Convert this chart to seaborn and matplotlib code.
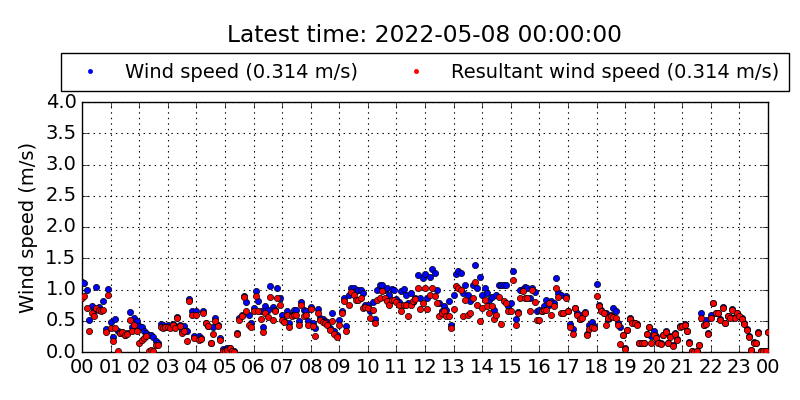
import matplotlib
matplotlib.use('Agg')
import matplotlib.pyplot as plt
import matplotlib.dates as mdates
from matplotlib.lines import Line2D
from matplotlib.ticker import MultipleLocator, FormatStrFormatter
import seaborn as sns
import pandas as pd
import numpy as np

# 5-minute samples, 2022-05-07 00:00 .. 2022-05-08 00:00 (one row per hour)
wind_speed = [
    1.12, 1.10, 1.00, 0.52, 0.73, 0.66, 1.04, 0.72, 0.68, 0.82, 0.37, 1.01,
    0.48, 0.24, 0.53, 0.33, 0.30, 0.32, 0.28, 0.30, 0.64, 0.40, 0.55, 0.50,
    0.42, 0.40, 0.34, 0.31, 0.28, 0.27, 0.24, 0.18, 0.14, 0.45, 0.43, 0.40,
    0.43, 0.40, 0.45, 0.42, 0.56, 0.44, 0.33, 0.42, 0.33, 0.85, 0.65, 0.25,
    0.65, 0.26, 0.22, 0.65, 0.46, 0.41, 0.15, 0.40, 0.54, 0.44, 0.23, 0.05,
    0.03, 0.06, 0.07, 0.02, 0.01, 0.30, 0.55, 0.60, 0.90, 0.80, 0.59, 0.46,
    0.71, 0.97, 0.82, 0.66, 0.40, 0.73, 0.68, 1.06, 0.72, 0.68, 1.02, 0.86,
    0.59, 0.50, 0.66, 0.46, 0.60, 0.67, 0.68, 0.50, 0.80, 0.68, 0.66, 0.50,
    0.72, 0.46, 0.38, 0.69, 0.55, 0.53, 0.50, 0.48, 0.39, 0.62, 0.33, 0.27,
    0.52, 0.65, 0.87, 0.41, 0.91, 1.03, 1.03, 0.97, 1.00, 0.99, 0.95, 0.75,
    0.75, 0.65, 0.80, 0.53, 0.99, 1.08, 1.08, 0.99, 1.02, 0.91, 1.01, 0.99,
    0.85, 0.80, 0.97, 1.01, 0.92, 0.79, 0.94, 0.80, 0.86, 1.24, 0.87, 1.18,
    1.25, 0.87, 1.20, 1.33, 1.27, 1.00, 0.78, 0.65, 0.73, 0.67, 0.81, 0.44,
    0.91, 1.25, 1.29, 1.26, 0.94, 1.07, 0.92, 0.82, 1.07, 1.39, 1.02, 1.20,
    0.91, 1.02, 0.94, 0.83, 0.88, 0.67, 0.92, 1.08, 1.08, 1.08, 1.08, 0.74,
    0.78, 1.30, 0.53, 0.64, 0.99, 1.01, 1.04, 1.02, 0.86, 1.03, 0.96, 0.65,
    0.67, 0.66, 0.74, 0.84, 0.76, 0.81, 0.79, 1.18, 0.95, 0.92, 0.62, 0.90,
    0.65, 0.45, 0.37, 0.71, 0.62, 0.53, 0.59, 0.64, 0.29, 0.43, 0.48, 0.41,
    1.09, 0.76, 0.67, 0.62, 0.62, 0.53, 0.59, 0.70, 0.66, 0.46, 0.40, 0.28,
    0.06, 0.36, 0.55, 0.48, 0.47, 0.45, 0.15, 0.15, 0.15, 0.29, 0.40, 0.25,
    0.33, 0.25, 0.16, 0.14, 0.28, 0.34, 0.15, 0.25, 0.11, 0.30, 0.21, 0.41,
    0.42, 0.45, 0.34, 0.16, 0.01, 0.00, 0.01, 0.12, 0.62, 0.44, 0.51, 0.30,
    0.60, 0.79, 0.63, 0.63, 0.53, 0.72, 0.47, 0.58, 0.56, 0.69, 0.56, 0.63,
    0.58, 0.54, 0.46, 0.37, 0.25, 0.03, 0.16, 0.15, 0.32, 0.01, 0.02, 0.02,
    0.314,
]

resultant_speed = [
    0.87, 0.89, 0.71, 0.33, 0.62, 0.58, 0.70, 0.68, 0.66, 0.68, 0.32, 0.91,
    0.38, 0.17, 0.39, 0.02, 0.31, 0.32, 0.27, 0.29, 0.52, 0.34, 0.43, 0.34,
    0.15, 0.20, 0.22, 0.26, 0.01, 0.04, 0.01, 0.11, 0.12, 0.40, 0.38, 0.40,
    0.40, 0.38, 0.43, 0.38, 0.55, 0.42, 0.30, 0.33, 0.18, 0.82, 0.60, 0.22,
    0.60, 0.20, 0.21, 0.62, 0.46, 0.41, 0.14, 0.29, 0.49, 0.41, 0.19, 0.02,
    0.01, 0.04, 0.06, 0.01, 0.00, 0.29, 0.52, 0.57, 0.88, 0.66, 0.43, 0.40,
    0.65, 0.89, 0.65, 0.53, 0.32, 0.63, 0.56, 0.88, 0.51, 0.66, 0.87, 0.76,
    0.52, 0.48, 0.59, 0.40, 0.58, 0.59, 0.59, 0.43, 0.75, 0.58, 0.59, 0.44,
    0.69, 0.41, 0.25, 0.62, 0.52, 0.48, 0.46, 0.44, 0.36, 0.50, 0.29, 0.24,
    0.43, 0.62, 0.82, 0.34, 0.76, 0.96, 0.91, 0.83, 0.83, 0.87, 0.70, 0.72,
    0.71, 0.54, 0.67, 0.46, 0.83, 0.87, 0.97, 0.86, 0.82, 0.76, 0.83, 0.83,
    0.80, 0.76, 0.65, 0.75, 0.75, 0.57, 0.76, 0.82, 0.85, 1.03, 0.69, 0.78,
    1.03, 0.69, 0.92, 1.03, 0.90, 0.79, 0.57, 0.62, 0.65, 0.57, 0.57, 0.38,
    0.69, 1.06, 1.03, 0.99, 0.57, 0.83, 0.59, 0.62, 0.86, 1.12, 0.75, 0.49,
    0.71, 0.83, 0.74, 0.62, 0.74, 0.53, 0.59, 0.88, 0.45, 0.81, 0.79, 0.65,
    0.65, 1.16, 0.43, 0.62, 0.87, 0.97, 0.87, 0.86, 0.65, 0.99, 0.80, 0.52,
    0.52, 0.65, 0.67, 0.67, 0.78, 0.60, 0.74, 1.02, 0.88, 0.62, 0.62, 0.86,
    0.65, 0.40, 0.29, 0.70, 0.60, 0.53, 0.55, 0.62, 0.28, 0.37, 0.40, 0.39,
    0.90, 0.74, 0.65, 0.62, 0.44, 0.54, 0.58, 0.56, 0.55, 0.43, 0.13, 0.28,
    0.05, 0.35, 0.53, 0.46, 0.46, 0.43, 0.15, 0.14, 0.15, 0.29, 0.40, 0.15,
    0.28, 0.23, 0.15, 0.13, 0.27, 0.32, 0.14, 0.24, 0.10, 0.29, 0.20, 0.40,
    0.42, 0.44, 0.33, 0.15, 0.01, 0.00, 0.01, 0.11, 0.54, 0.43, 0.45, 0.29,
    0.55, 0.78, 0.62, 0.62, 0.52, 0.71, 0.46, 0.57, 0.55, 0.68, 0.55, 0.62,
    0.57, 0.53, 0.45, 0.36, 0.24, 0.03, 0.15, 0.15, 0.31, 0.01, 0.02, 0.02,
    0.314,
]

times = pd.date_range('2022-05-07 00:00', '2022-05-08 00:00', freq='5min')
latest = times[-1]

df = pd.DataFrame({'time': times, 'ws': wind_speed, 'rws': resultant_speed})

plt.style.use('classic')
plt.rcParams['font.family'] = ['DejaVu Sans']
plt.rcParams['figure.facecolor'] = 'white'
plt.rcParams['savefig.facecolor'] = 'white'

fig = plt.figure(figsize=(8, 4), dpi=100)
ax = fig.add_axes([0.1025, 0.12, 0.8575, 0.625])

sns.scatterplot(data=df, x='time', y='ws', color='blue', edgecolor='black',
                linewidth=0.5, s=20, ax=ax, zorder=3)
sns.scatterplot(data=df, x='time', y='rws', color='red', edgecolor='black',
                linewidth=0.5, s=20, ax=ax, zorder=4)

ax.set_xlim(times[0], times[-1])
ax.set_ylim(0, 4)
ax.yaxis.set_major_locator(MultipleLocator(0.5))
ax.yaxis.set_major_formatter(FormatStrFormatter('%.1f'))
ax.xaxis.set_major_locator(mdates.HourLocator())
ax.xaxis.set_major_formatter(mdates.DateFormatter('%H'))
ax.tick_params(labelsize=14)
ax.grid(True, color='black', linestyle=':', linewidth=0.8)
ax.set_axisbelow(True)
ax.set_xlabel('')
ax.set_ylabel('Wind speed (m/s)', fontsize=14)

handles = [
    Line2D([], [], linestyle='none', marker='o', markersize=3,
           markerfacecolor='blue', markeredgecolor='blue'),
    Line2D([], [], linestyle='none', marker='o', markersize=3,
           markerfacecolor='red', markeredgecolor='red'),
]
labels = ['Wind speed (%.3f m/s)' % wind_speed[-1],
          'Resultant wind speed (%.3f m/s)' % resultant_speed[-1]]
fig.legend(handles, labels, loc='center', bbox_to_anchor=(0.531, 0.82),
           ncol=2, numpoints=1, fontsize=14, frameon=True, fancybox=False,
           borderpad=0.5, columnspacing=2.0, handletextpad=0.8)

fig.text(0.531, 0.912, 'Latest time: ' + latest.strftime('%Y-%m-%d %H:%M:%S'),
         ha='center', va='center', fontsize=16.8)

fig.savefig('out.png', dpi=100)
